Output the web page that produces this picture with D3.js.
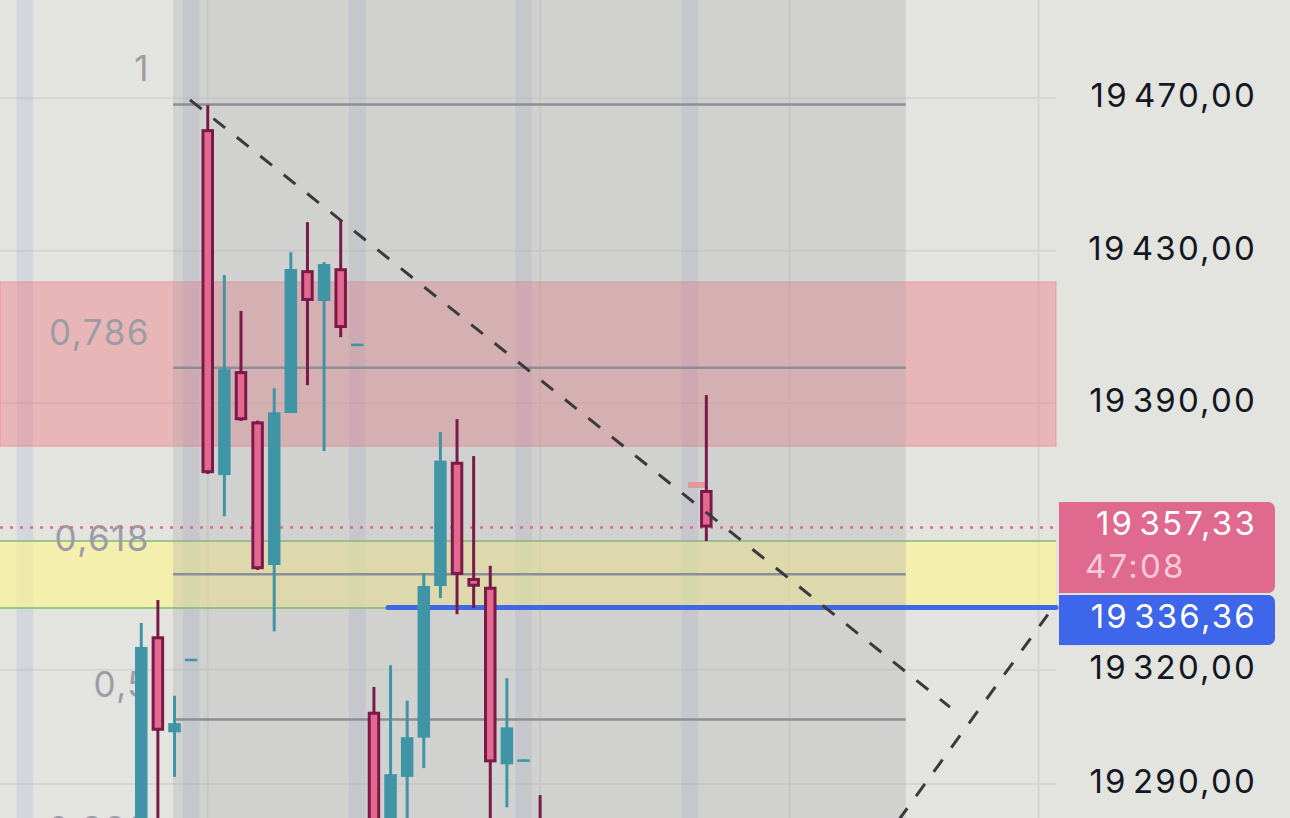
<!DOCTYPE html>
<html>
<head>
<meta charset="utf-8">
<script src="https://cdn.jsdelivr.net/npm/d3@7"></script>
<style>
  html, body { margin: 0; padding: 0; background: #e3e3df; overflow: hidden; }
  svg { display: block; font-family: Inter, "Noto Sans", sans-serif; }
</style>
</head>
<body>
<svg id="chart"></svg>
<script>
// candles: bar index and OHLC
const barIndex = [0, 1, 2, 3, 4, 5, 6, 7, 8, 9, 10, 11, 12, 13, 14, 15, 16, 17, 18, 19, 20, 21, 22, 23, 24, 34];
const opens  = [19272, 19328.8, 19303.6, 19322.3, 19461.9, 19371.1, 19398.4, 19385.2, 19347.5, 19387.4, 19424.9, 19416.8, 19425.4, 19405.0, 19309.0, 19276, 19291.9, 19302.2, 19342.0, 19374.6, 19344.1, 19341.8, 19295.2, 19295.9, 19279, 19367.2];
const highs  = [19332.3, 19338.3, 19313.2, 19322.9, 19468.2, 19423.6, 19414.2, 19385.4, 19393.9, 19429.6, 19437.5, 19427.0, 19438.0, 19405.6, 19315.5, 19321.2, 19311.9, 19345.4, 19382.4, 19385.8, 19376.1, 19347.3, 19317.8, 19296.5, 19287.1, 19392.1];
const lows   = [19265, 19268, 19291.9, 19322.3, 19371.4, 19360.3, 19385.3, 19346.2, 19330.1, 19387.4, 19394.7, 19377.4, 19407.3, 19405.0, 19270, 19272, 19277, 19294.2, 19338.8, 19334.6, 19336.2, 19275, 19283.9, 19295.9, 19258, 19353.8];
const closes = [19326.0, 19304.0, 19306.0, 19322.9, 19371.6, 19398.9, 19385.5, 19346.4, 19387.6, 19425.2, 19416.8, 19426.5, 19409.7, 19405.6, 19274, 19292.6, 19302.3, 19342.0, 19374.9, 19344.9, 19341.8, 19295.7, 19304.9, 19296.5, 19262, 19357.33];

// price axis
const priceTicks = [19470, 19430, 19390, 19320, 19290];
const timeGrid = [4, 24, 39, 54];
const sessionBands = [-7, 3, 13, 23, 33];

// fibonacci retracement
const fibLevels = [1, 0.786, 0.618, 0.5, 0.382];
const fibLabels = ["1", "0,786", "0,618", "0,5", "0,382"];
const fibHigh = 19468.4, fibLow = 19145.5;
const fibRange = [1.91, 46.0];

// zones and drawings
const redZone = [19378.7, 19421.8];
const yellowZone = [19336.2, 19353.8];
const trendA = [[2.93, 19469.6], [48.66, 19310.2]];
const trendB = [[44.5, 19274.1], [54.55, 19334.5]];
const markerBar = [32.9, 33.95], markerPrice = 19368.5;

const lastPrice = 19357.33, countdown = "47:08";
const alertPrice = 19336.36, alertStart = 14.85;

const W = 1290, H = 818, plotW = 1056;
const svg = d3.select("#chart").attr("width", W).attr("height", H);

const x = d3.scaleLinear().domain([-8.5, 55.04]).range([0, plotW]);
const y = d3.scaleLinear().domain([19281.1, 19495.8]).range([H, 0]);
const step = x(1) - x(0);

const loc = d3.formatLocale({ decimal: ",", thousands: "\u200A", grouping: [3], currency: ["", ""] });
const fmt = loc.format(",.2f");

svg.append("rect").attr("width", W).attr("height", H).attr("fill", "#e3e3df");

const plot = svg.append("g");

// grid
plot.selectAll(".hgrid").data(priceTicks).enter().append("line")
  .attr("x1", 0).attr("x2", plotW)
  .attr("y1", d => y(d)).attr("y2", d => y(d))
  .attr("stroke", "#d5d6d2").attr("stroke-width", 2);
plot.selectAll(".vgrid").data(timeGrid).enter().append("line")
  .attr("x1", d => x(d)).attr("x2", d => x(d))
  .attr("y1", 0).attr("y2", H)
  .attr("stroke", "#d5d6d2").attr("stroke-width", 2);

// session bands
plot.selectAll(".band").data(sessionBands).enter().append("rect")
  .attr("x", d => x(d) - step / 2).attr("width", step)
  .attr("y", 0).attr("height", H)
  .attr("fill", "rgba(150,165,210,0.2)");

// zones
plot.append("rect")
  .attr("x", 0).attr("width", plotW)
  .attr("y", y(redZone[1])).attr("height", y(redZone[0]) - y(redZone[1]))
  .attr("fill", "rgba(250,80,95,0.3)")
  .attr("stroke", "rgba(240,110,120,0.35)").attr("stroke-width", 1.5);
plot.append("rect")
  .attr("x", 0).attr("width", plotW)
  .attr("y", y(yellowZone[1])).attr("height", y(yellowZone[0]) - y(yellowZone[1]))
  .attr("fill", "rgba(255,246,140,0.6)");
plot.selectAll(".zoneEdge").data(yellowZone).enter().append("line")
  .attr("x1", 0).attr("x2", plotW)
  .attr("y1", d => y(d)).attr("y2", d => y(d))
  .attr("stroke", "#97c886").attr("stroke-width", 2);

// fib background
plot.append("rect")
  .attr("x", x(fibRange[0])).attr("width", x(fibRange[1]) - x(fibRange[0]))
  .attr("y", 0).attr("height", H)
  .attr("fill", "rgba(160,160,170,0.28)");

const fibPrice = l => fibLow + (fibHigh - fibLow) * l;
plot.selectAll(".fib").data(fibLevels).enter().append("line")
  .attr("x1", x(fibRange[0])).attr("x2", x(fibRange[1]))
  .attr("y1", d => y(fibPrice(d))).attr("y2", d => y(fibPrice(d)))
  .attr("stroke", "#8c8e97").attr("stroke-width", 2.5);
plot.selectAll(".fibLabel").data(fibLevels).enter().append("text")
  .attr("x", x(fibRange[0]) - 23)
  .attr("y", d => y(fibPrice(d)) - 23)
  .attr("text-anchor", "end")
  .attr("font-size", 35).attr("letter-spacing", 1.5).attr("fill", "#9b9da5")
  .text((d, i) => fibLabels[i]);

// last price dotted line
plot.append("line")
  .attr("x1", 0).attr("x2", plotW)
  .attr("y1", y(lastPrice)).attr("y2", y(lastPrice))
  .attr("stroke", "#e0688f").attr("stroke-width", 2.5)
  .attr("stroke-dasharray", "3,7");

// alert line
plot.append("line")
  .attr("x1", x(alertStart)).attr("x2", plotW)
  .attr("y1", y(alertPrice)).attr("y2", y(alertPrice))
  .attr("stroke", "#4168e3").attr("stroke-width", 5)
  .attr("stroke-linecap", "round");

// small marker
plot.append("rect")
  .attr("x", x(markerBar[0])).attr("width", x(markerBar[1]) - x(markerBar[0]))
  .attr("y", y(markerPrice) - 3).attr("height", 6)
  .attr("fill", "rgba(240,120,125,0.6)");

// candles
const bars = barIndex.map((b, i) => ({ b, o: opens[i], h: highs[i], l: lows[i], c: closes[i] }));
const teal = "#3f95a5", pink = "#e3698f", maroon = "#7a1a4a";
const bodyW = 12.5;

const cg = plot.selectAll(".candle").data(bars).enter().append("g");
cg.append("line")
  .attr("x1", d => x(d.b)).attr("x2", d => x(d.b))
  .attr("y1", d => y(d.h)).attr("y2", d => y(d.l))
  .attr("stroke", d => d.c >= d.o ? teal : maroon)
  .attr("stroke-width", 3);
cg.filter(d => d.c >= d.o).append("rect")
  .attr("x", d => x(d.b) - bodyW / 2).attr("width", bodyW)
  .attr("y", d => y(d.c))
  .attr("height", d => Math.max(2.5, y(d.o) - y(d.c)))
  .attr("fill", teal);
cg.filter(d => d.c < d.o).append("rect")
  .attr("x", d => x(d.b) - bodyW / 2 + 1.5).attr("width", bodyW - 3)
  .attr("y", d => y(d.o) + 1.5)
  .attr("height", d => Math.max(2, y(d.c) - y(d.o) - 3))
  .attr("fill", pink).attr("stroke", maroon).attr("stroke-width", 3);

// dashed drawings
const line = d3.line().x(d => x(d[0])).y(d => y(d[1]));
[trendA, trendB].forEach(t => {
  plot.append("path").attr("d", line(t))
    .attr("fill", "none").attr("stroke", "#3a3a3c")
    .attr("stroke-width", 3).attr("stroke-dasharray", "15,15");
});

// price axis labels
const axis = svg.append("g");
axis.selectAll(".tick").data(priceTicks).enter().append("text")
  .attr("x", 1257).attr("y", d => y(d) + 9)
  .attr("text-anchor", "end")
  .attr("font-size", 33).attr("letter-spacing", 2.2).attr("fill", "#131722")
  .text(d => fmt(d));

function tag(top, h, color) {
  axis.append("rect").attr("x", 1059).attr("y", top).attr("width", 216).attr("height", h)
    .attr("rx", 7).attr("fill", color);
  axis.append("rect").attr("x", 1059).attr("y", top).attr("width", 20).attr("height", h)
    .attr("fill", color);
}

// last price tag
const lastTop = y(lastPrice) - 25.5;
tag(lastTop, 91, "#e0698f");
axis.append("text").attr("x", 1257).attr("y", lastTop + 33)
  .attr("text-anchor", "end").attr("font-size", 33).attr("letter-spacing", 2.2).attr("fill", "#ffffff")
  .text(fmt(lastPrice));
axis.append("text").attr("x", 1085).attr("y", lastTop + 76)
  .attr("font-size", 33).attr("letter-spacing", 2.2).attr("fill", "#f8c9d8")
  .text(countdown);

// alert tag, pushed below the last price tag
const alertTop = Math.max(y(alertPrice) - 25, lastTop + 93);
tag(alertTop, 50, "#3d66ea");
axis.append("text").attr("x", 1257).attr("y", alertTop + 33)
  .attr("text-anchor", "end").attr("font-size", 33).attr("letter-spacing", 2.2).attr("fill", "#ffffff")
  .text(fmt(alertPrice));
</script>
</body>
</html>
